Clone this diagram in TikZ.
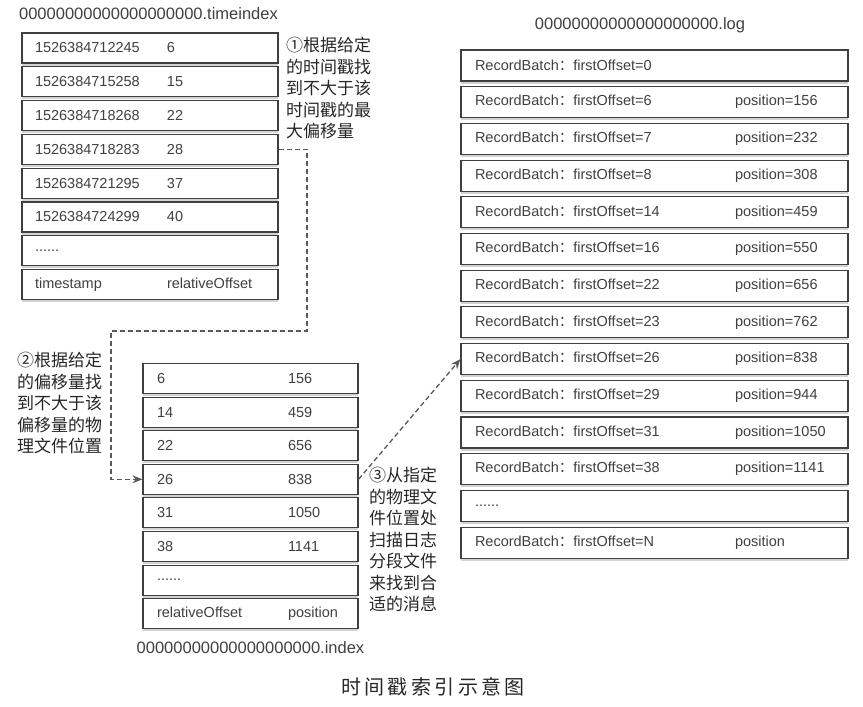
\documentclass[tikz,border=0pt]{standalone}
\usepackage{fontspec}
\setmainfont{Liberation Sans}
\newfontfamily\cjk{Noto Sans CJK SC}
\newfontfamily\cjkcap[LetterSpace=17]{Noto Sans CJK SC}
\usetikzlibrary{arrows.meta,shadows}
\newcommand{\twocol}[3]{\makebox[#1][l]{#2}#3}
\tikzset{
  boxrow/.style={draw=black!75, fill=white, line width=1.1pt, inner xsep=13pt, inner ysep=0pt,
    align=left, text=black!75, font=\fontsize{14.5}{16}\selectfont,
    drop shadow={shadow xshift=0pt, shadow yshift=-2.5pt, opacity=0.35}},
  tirow/.style={boxrow, minimum height=30pt, text width=230pt},
  ixrow/.style={boxrow, minimum height=30pt, inner xsep=14pt, text width=187pt},
  lgrow/.style={boxrow, minimum height=31pt, inner xsep=14pt, text width=359pt},
  fname/.style={text=black!75, font=\fontsize{16.5}{18}\selectfont},
  note/.style={inner sep=0pt, align=left, text=black!85, font=\cjk\fontsize{17}{21.5}\selectfont},
  link/.style={dash pattern=on 5pt off 3pt, line width=1.3pt, black!65, -{Stealth[length=10pt,width=8pt]}}
}
\begin{document}
\begin{tikzpicture}[x=1pt,y=-1pt]
    \useasboundingbox (0,0) rectangle (863,707);
    % timeindex
    \node[fname] (tname) at (148.5,14) {00000000000000000000.timeindex};
    \node[tirow] (t1) at (150,48) {\twocol{132pt}{1526384712245}{6}};
    \node[tirow] (t2) at (150,81.8) {\twocol{132pt}{1526384715258}{15}};
    \node[tirow] (t3) at (150,115.6) {\twocol{132pt}{1526384718268}{22}};
    \node[tirow] (t4) at (150,149.4) {\twocol{132pt}{1526384718283}{28}};
    \node[tirow] (t5) at (150,183.2) {\twocol{132pt}{1526384721295}{37}};
    \node[tirow] (t6) at (150,217) {\twocol{132pt}{1526384724299}{40}};
    \node[tirow] (t7) at (150,250.8) {......};
    \node[tirow] (t8) at (150,284.6) {\twocol{132pt}{timestamp}{relativeOffset}};
    % index
    \node[ixrow] (i1) at (250.5,378.5) {\twocol{131pt}{6}{156}};
    \node[ixrow] (i2) at (250.5,412.1) {\twocol{131pt}{14}{459}};
    \node[ixrow] (i3) at (250.5,445.7) {\twocol{131pt}{22}{656}};
    \node[ixrow] (i4) at (250.5,479.3) {\twocol{131pt}{26}{838}};
    \node[ixrow] (i5) at (250.5,512.9) {\twocol{131pt}{31}{1050}};
    \node[ixrow] (i6) at (250.5,546.5) {\twocol{131pt}{38}{1141}};
    \node[ixrow] (i7) at (250.5,580.1) {......};
    \node[ixrow] (i8) at (250.5,613.7) {\twocol{131pt}{relativeOffset}{position}};
    \node[fname] (iname) at (250.5,648) {00000000000000000000.index};
    % log
    \node[fname] (lname) at (640,25) {00000000000000000000.log};
    \node[lgrow] (l1) at (654.5,65.5) {RecordBatch{\cjk ：}firstOffset=0};
    \node[lgrow] (l2) at (654.5,102.2) {\twocol{260pt}{RecordBatch{\cjk ：}firstOffset=6}{position=156}};
    \node[lgrow] (l3) at (654.5,138.9) {\twocol{260pt}{RecordBatch{\cjk ：}firstOffset=7}{position=232}};
    \node[lgrow] (l4) at (654.5,175.6) {\twocol{260pt}{RecordBatch{\cjk ：}firstOffset=8}{position=308}};
    \node[lgrow] (l5) at (654.5,212.3) {\twocol{260pt}{RecordBatch{\cjk ：}firstOffset=14}{position=459}};
    \node[lgrow] (l6) at (654.5,249) {\twocol{260pt}{RecordBatch{\cjk ：}firstOffset=16}{position=550}};
    \node[lgrow] (l7) at (654.5,285.7) {\twocol{260pt}{RecordBatch{\cjk ：}firstOffset=22}{position=656}};
    \node[lgrow] (l8) at (654.5,322.4) {\twocol{260pt}{RecordBatch{\cjk ：}firstOffset=23}{position=762}};
    \node[lgrow] (l9) at (654.5,359.1) {\twocol{260pt}{RecordBatch{\cjk ：}firstOffset=26}{position=838}};
    \node[lgrow] (l10) at (654.5,395.8) {\twocol{260pt}{RecordBatch{\cjk ：}firstOffset=29}{position=944}};
    \node[lgrow] (l11) at (654.5,432.5) {\twocol{260pt}{RecordBatch{\cjk ：}firstOffset=31}{position=1050}};
    \node[lgrow] (l12) at (654.5,469.2) {\twocol{260pt}{RecordBatch{\cjk ：}firstOffset=38}{position=1141}};
    \node[lgrow] (l13) at (654.5,505.9) {......};
    \node[lgrow] (l14) at (654.5,542.6) {\twocol{260pt}{RecordBatch{\cjk ：}firstOffset=N}{position}};
    % notes
    \node[note, anchor=north west] (n1) at (286,37) {①根据给定\\的时间戳找\\到不大于该\\时间戳的最\\大偏移量};
    \node[note, anchor=north west] (n2) at (17,352) {②根据给定\\的偏移量找\\到不大于该\\偏移量的物\\理文件位置};
    \node[note, anchor=north west] (n3) at (369,467) {③从指定\\的物理文\\件位置处\\扫描日志\\分段文件\\来找到合\\适的消息};
    % links
    \coordinate (c1) at (307,331);
    \coordinate (c2) at (111,331);
    \draw[link] (t4.east) -| (c1) -- (c2) |- (i4.west);
    \draw[link] (i4.east) -- (l9.west);
    % caption
    \node[font=\cjkcap\fontsize{20}{22}\selectfont, text=black!85] (cap) at (433,687) {时间戳索引示意图};
\end{tikzpicture}
\end{document}
